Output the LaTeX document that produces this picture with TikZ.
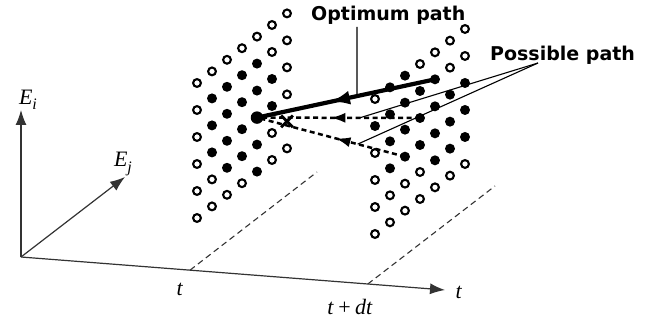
\documentclass[tikz,border=0pt]{standalone}
\usepackage{amsmath}
\usepackage{fontspec}
\setmainfont{Liberation Serif}
\newfontfamily\lblfont{DejaVu Sans}
\usetikzlibrary{arrows.meta,calc,shapes.misc,decorations.markings}
\tikzset{
  dotO/.style={circle,draw,line width=2.1pt,inner sep=0pt,minimum size=7.8pt},
  dotF/.style={circle,fill,inner sep=0pt,minimum size=10pt},
  dotS/.style={circle,fill,inner sep=0pt,minimum size=12.5pt},
  dotX/.style={cross out,draw,line width=2.8pt,inner sep=0pt,minimum size=9pt},
  axisline/.style={line width=1.2pt,draw=black!80},
  axistip/.style={-{Latex[length=15pt,width=11pt]}},
  guide/.style={line width=1.1pt,draw=black!80,dash pattern=on 6pt off 4pt},
  optpath/.style={line width=4.2pt,postaction={decorate},decoration={markings,
      mark=at position #1 with {\arrow{Latex[length=20pt,width=14pt]}}}},
  dpath/.style={line width=2.5pt,dash pattern=on 5pt off 3.5pt,postaction={decorate},decoration={markings,
      mark=at position #1 with {\arrow{Latex[length=15pt,width=10pt]}}}},
  pointer/.style={line width=1.1pt},
  bigtext/.style={font=\lblfont\bfseries\fontsize{19}{21}\selectfont,inner sep=0pt},
  axtext/.style={font=\fontsize{22}{24}\selectfont,inner sep=0pt}
}
\newcommand{\sbs}[1]{\raisebox{-0.25em}{\fontsize{16}{17}\selectfont\textit{#1}}}
\begin{document}
\begin{tikzpicture}[x=1pt,y=-1pt]
\useasboundingbox (0,0) rectangle (662,321);
% left grid
\foreach \c/\pat in {0/{O,O,O,O,O,O},1/{O,F,F,F,O,O},2/{O,F,F,F,F,O},3/{O,F,F,F,F,O},
                     4/{O,F,F,S,F,F},5/{O,O,F,F,O,O},6/{O,O,O,O,X,O}}{
  \foreach \s [count=\r from 0] in \pat {
    \node[dot\s] (L-\c-\r) at ({197+15*\c},{83+27*\r-11.6*\c}) {};
  }
}
% right grid
\foreach \c/\pat in {0/{O,F,O,O,O,O},1/{F,F,F,F,O,O},2/{F,F,F,F,O,O},3/{O,F,F,F,O,O},
                     4/{O,F,F,F,F,O},5/{O,O,F,F,F,O},6/{O,O,F,F,F,O}}{
  \foreach \s [count=\r from 0] in \pat {
    \node[dot\s] (R-\c-\r) at ({375+15*\c},{99+27*\r-11.67*\c}) {};
  }
}
% paths
\draw[optpath=0.59] (R-4-1.center) -- (L-4-3.center);
\draw[dpath=0.55] (R-3-2.center) -- (L-4-3.center);
\draw[dpath=0.47] (R-2-3.center) -- (L-4-3.center);
% labels
\node[bigtext,anchor=base west] (op) at (311,21) {Optimum path};
\node[bigtext,anchor=base west] (pp) at (490,61) {Possible path};
\coordinate (opt) at (357,27);
\coordinate (opb) at ($(L-4-3.center)!0.562!(R-4-1.center)$);
\draw[pointer] (opt) -- (opb);
\coordinate (ppt) at (538,63);
\coordinate (pa) at ($(L-4-3.center)!0.63!(R-3-2.center)$);
\coordinate (pb) at ($(L-4-3.center)!0.68!(R-2-3.center)$);
\draw[pointer] (ppt) -- (pa);
\draw[pointer] (ppt) -- (pb);
% axes
\coordinate (O) at (21,257);
\coordinate (Eitip) at (21,110);
\coordinate (Ejtip) at (125,177);
\coordinate (Ttip) at (445,290);
\draw[axisline,axistip] (O) -- (Eitip);
\draw[axisline,axistip] (O) -- (Ejtip);
\draw[axisline,axistip] (O) -- (Ttip);
\node[axtext] (Ei) at (28,100) {\textit{E}\sbs{i}};
\node[axtext] (Ej) at (123,164) {\textit{E}\sbs{j}};
\node[axtext] (tl) at (459,292) {\textit{t}};
\coordinate (t1) at ($(O)!0.3986!(Ttip)$);
\coordinate (t2) at ($(O)!0.818!(Ttip)$);
\coordinate (t1e) at (317,172);
\coordinate (t2e) at (495,186);
\draw[guide] (t1) -- (t1e);
\draw[guide] (t2) -- (t2e);
\node[axtext] (t1l) at (180,289) {\textit{t}};
\node[axtext] (t2l) at (350,307) {\textit{t}\hspace{0.2em}+\hspace{0.2em}\textit{dt}};
\end{tikzpicture}
\end{document}
